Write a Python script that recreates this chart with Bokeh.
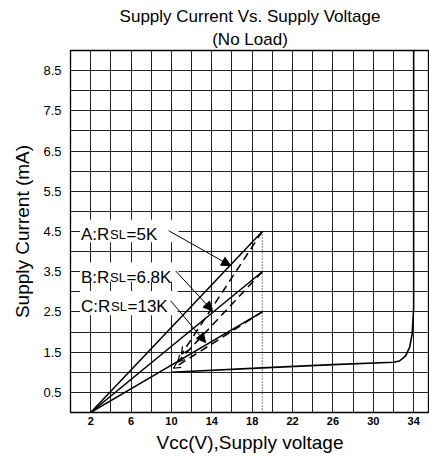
from bokeh.plotting import figure
from bokeh.models import (Label, Arrow, NormalHead, OpenHead, FixedTicker,
                          ColumnDataSource, Range1d, Title)
from bokeh.embed import file_html
from bokeh.resources import INLINE

# ---------------- data ----------------
x_ticks = [2, 6, 10, 14, 18, 22, 26, 30, 34]
y_ticks = [0.5, 1.5, 2.5, 3.5, 4.5, 5.5, 6.5, 7.5, 8.5]
x_grid = [2, 4, 6, 8, 10, 12, 14, 16, 18, 20, 22, 24, 26, 28, 30, 32, 34, 36]
y_grid = [0.5, 1.0, 1.5, 2.0, 2.5, 3.0, 3.5, 4.0, 4.5, 5.0, 5.5, 6.0, 6.5,
          7.0, 7.5, 8.0, 8.5, 9.0]

# rising (solid) lines A, B, C
rise_x0 = [2, 2, 2]
rise_y0 = [0, 0, 0]
rise_x1 = [19, 19, 19]
rise_y1 = [4.5, 3.5, 2.5]

# returning (dashed) lines A, B, C
ret_x0 = [19, 19, 19]
ret_y0 = [4.5, 3.5, 2.5]
ret_x1 = [11.0, 10.6, 10.2]
ret_y1 = [1.45, 1.25, 1.1]

# common curve
curve_x = [10, 19, 26, 32, 32.6, 33.2, 33.6, 33.85, 34, 34]
curve_y = [1.0, 1.11, 1.19, 1.25, 1.28, 1.41, 1.62, 1.95, 2.6, 9.0]

# dotted marker at 19 V
dot_x = [19, 19]
dot_y = [0, 4.5]

# callouts
call_x0 = [9.72, 10.42, 9.92]
call_y0 = [4.52, 3.52, 2.78]
call_x1 = [15.87, 14.06, 13.39]
call_y1 = [3.65, 2.53, 1.74]

label_head = ["A:R", "B:R", "C:R"]
label_sub = ["SL", "SL", "SL"]
label_tail = ["=5K", "=6.8K", "=13K"]

title1 = "Supply Current Vs. Supply Voltage"
title2 = "(No Load)"
xlabel = "Vcc(V),Supply voltage"
ylabel = "Supply Current (mA)"

FONT = "Liberation Sans"

# ---------------- figure ----------------
p = figure(width=429, height=458, x_range=Range1d(0, 35.57), y_range=Range1d(0, 9),
           output_backend="svg", toolbar_location=None,
           min_border_left=70, min_border_right=0, min_border_top=50,
           min_border_bottom=46)
p.background_fill_color = "white"
p.border_fill_color = "white"
p.outline_line_color = "black"
p.outline_line_width = 1.3

# titles (added nearest-first)
p.add_layout(Title(text=title2, align="center", text_font=FONT, text_font_size="17px",
                   text_font_style="normal", text_color="black", standoff=3), "above")
p.add_layout(Title(text=title1, align="center", text_font=FONT, text_font_size="17px",
                   text_font_style="normal", text_color="black", standoff=1), "above")

p.xgrid.ticker = FixedTicker(ticks=x_grid)
p.ygrid.ticker = FixedTicker(ticks=y_grid)
for g in (p.xgrid, p.ygrid):
    g.grid_line_color = "#222222"
    g.grid_line_width = 1
    g.grid_line_alpha = 1.0

p.xaxis.ticker = FixedTicker(ticks=x_ticks)
p.yaxis.ticker = FixedTicker(ticks=y_ticks)
p.xaxis.major_label_text_font_style = "bold"
p.xaxis.major_label_text_font_size = "11px"
p.yaxis.major_label_text_font_size = "13px"
p.xaxis.major_label_standoff = 4
p.yaxis.major_label_standoff = 9
p.xaxis.axis_label = xlabel
p.yaxis.axis_label = ylabel
p.xaxis.axis_label_standoff = 4
p.yaxis.axis_label_standoff = 7
for ax in (p.xaxis, p.yaxis):
    ax.axis_line_color = None
    ax.major_tick_line_color = None
    ax.minor_tick_line_color = None
    ax.major_tick_out = 0
    ax.major_tick_in = 0
    ax.minor_tick_out = 0
    ax.minor_tick_in = 0
    ax.major_label_text_font = FONT
    ax.major_label_text_color = "black"
    ax.axis_label_text_font = FONT
    ax.axis_label_text_font_size = "19px"
    ax.axis_label_text_font_style = "normal"
    ax.axis_label_text_color = "black"

# white label boxes
box_left = [0.95, 0.95, 0.95]
box_right = [10.7, 10.7, 10.6]
box_bottom = [4.23, 3.25, 2.42]
box_top = [4.79, 3.73, 3.02]
p.quad(left=box_left, right=box_right, bottom=box_bottom, top=box_top,
       fill_color="white", line_color=None)

# rising solid lines
p.multi_line(xs=[[a, b] for a, b in zip(rise_x0, rise_x1)],
             ys=[[a, b] for a, b in zip(rise_y0, rise_y1)],
             line_color="black", line_width=1.5)

# dotted line
p.line(dot_x, dot_y, line_color="black", line_width=1, line_dash="1 2")

# common curve
p.line(curve_x, curve_y, line_color="black", line_width=1.6)

# dashed return lines with open heads
ret_src = ColumnDataSource(dict(x0=ret_x0, y0=ret_y0, x1=ret_x1, y1=ret_y1))
p.add_layout(Arrow(x_start="x0", y_start="y0", x_end="x1", y_end="y1",
                   source=ret_src, line_color="black", line_width=1.5,
                   line_dash="8 5",
                   end=OpenHead(size=7, line_width=1.2, line_color="black")))

# callout arrows
call_src = ColumnDataSource(dict(x0=call_x0, y0=call_y0, x1=call_x1, y1=call_y1))
p.add_layout(Arrow(x_start="x0", y_start="y0", x_end="x1", y_end="y1",
                   source=call_src, line_color="black", line_width=1,
                   end=NormalHead(size=9, fill_color="black", line_color="black",
                                  line_width=1)))

# callout labels (mixed size text)
lab_x = 1.04
lab_y = [4.42, 3.36, 2.63]
sub_off = [29, 29, 30]
tail_off = [45.5, 45.5, 46.5]
for i in range(3):
    p.add_layout(Label(x=lab_x, y=lab_y[i], text=label_head[i], text_font=FONT,
                       text_font_size="17px", text_baseline="alphabetic",
                       text_align="left", text_color="black"))
    p.add_layout(Label(x=lab_x, y=lab_y[i], x_offset=sub_off[i], text=label_sub[i],
                       text_font=FONT, text_font_size="13px",
                       text_baseline="alphabetic", text_align="left",
                       text_color="black"))
    p.add_layout(Label(x=lab_x, y=lab_y[i], x_offset=tail_off[i], text=label_tail[i],
                       text_font=FONT, text_font_size="17px",
                       text_baseline="alphabetic", text_align="left",
                       text_color="black"))

open("out.html", "w").write(file_html(p, INLINE))
